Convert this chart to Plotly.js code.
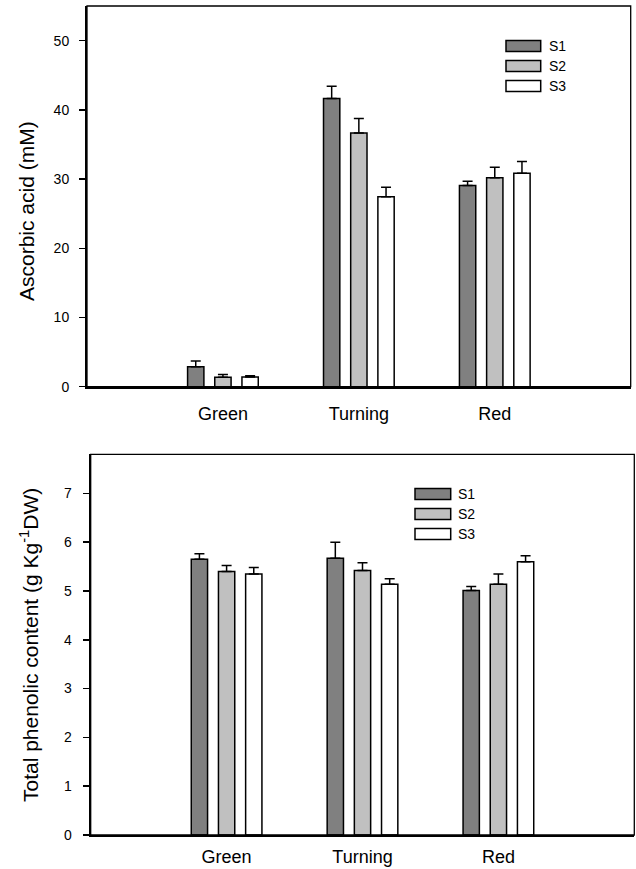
<!DOCTYPE html>
<html>
<head>
<meta charset="utf-8">
<script src="https://cdn.plot.ly/plotly-3.0.1.min.js"></script>
<style>
html,body{margin:0;padding:0;background:#fff;}
#chart{width:636px;height:869px;}
</style>
</head>
<body>
<div id="chart"></div>
<script>
// ---- Data ----
const categories = ['Green', 'Turning', 'Red'];
const seriesNames = ['S1', 'S2', 'S3'];

// Ascorbic acid (mM)
const ascS1 = [2.9, 41.65, 29.07];
const ascS2 = [1.35, 36.65, 30.2];
const ascS3 = [1.4, 27.45, 30.85];
const ascErrS1 = [0.8, 1.75, 0.6];
const ascErrS2 = [0.4, 2.1, 1.5];
const ascErrS3 = [0.2, 1.35, 1.7];

// Total phenolic content (g Kg-1 DW)
const phenS1 = [5.65, 5.67, 5.01];
const phenS2 = [5.4, 5.42, 5.14];
const phenS3 = [5.35, 5.14, 5.6];
const phenErrS1 = [0.11, 0.33, 0.08];
const phenErrS2 = [0.12, 0.16, 0.21];
const phenErrS3 = [0.13, 0.11, 0.12];

const ascTicks = [0, 10, 20, 30, 40, 50];
const phenTicks = [0, 1, 2, 3, 4, 5, 6, 7];

// ---- Styles ----
const fills = ['#808080', '#c0c0c0', '#ffffff'];
const FONT = 'Liberation Sans, Arial, Helvetica, sans-serif';
const W = 636, H = 869;

function barTrace(name, y, err, fill, xa, ya) {
  return {
    type: 'bar', name: name, x: categories, y: y,
    xaxis: xa, yaxis: ya, showlegend: false,
    marker: {color: fill, line: {color: '#000', width: 1.5}},
    error_y: {type: 'data', symmetric: false, array: err,
              arrayminus: err.map(() => 0), color: '#000', thickness: 1.5, width: 5},
    hoverinfo: 'skip'
  };
}

const data = [
  barTrace('S1', ascS1, ascErrS1, fills[0], 'x', 'y'),
  barTrace('S2', ascS2, ascErrS2, fills[1], 'x', 'y'),
  barTrace('S3', ascS3, ascErrS3, fills[2], 'x', 'y'),
  barTrace('S1', phenS1, phenErrS1, fills[0], 'x2', 'y2'),
  barTrace('S2', phenS2, phenErrS2, fills[1], 'x2', 'y2'),
  barTrace('S3', phenS3, phenErrS3, fills[2], 'x2', 'y2')
];

// pixel helpers for paper coordinates
const px = v => v / W;
const py = v => 1 - v / H;

const xCommon = {
  type: 'category', range: [-1, 3], showgrid: false, zeroline: false,
  showline: true, linecolor: '#000', linewidth: 2, ticks: '',
  tickfont: {family: FONT, size: 18, color: '#000'}, fixedrange: true
};
const yCommon = {
  showgrid: false, zeroline: false, showline: true, linecolor: '#000', linewidth: 2,
  ticks: 'outside', ticklen: 6, tickwidth: 1.5, tickcolor: '#000',
  tickfont: {family: FONT, size: 14, color: '#000'}, fixedrange: true
};

const shapes = [];
const annotations = [];

// frames
shapes.push({type: 'rect', xref: 'x domain', yref: 'y domain', x0: 0, x1: 1, y0: 0, y1: 1,
             line: {color: '#000', width: 1.3}});
shapes.push({type: 'rect', xref: 'x2 domain', yref: 'y2 domain', x0: 0, x1: 1, y0: 0, y1: 1,
             line: {color: '#000', width: 1.3}});

// legends
function addLegend(xLeft, xRight, yCenters, textX) {
  seriesNames.forEach((n, i) => {
    shapes.push({type: 'rect', xref: 'paper', yref: 'paper',
      x0: px(xLeft), x1: px(xRight), y0: py(yCenters[i] + 5.5), y1: py(yCenters[i] - 5.5),
      fillcolor: fills[i], line: {color: '#000', width: 1.5}});
    annotations.push({xref: 'paper', yref: 'paper', x: px(textX), y: py(yCenters[i]),
      xanchor: 'left', yanchor: 'middle', showarrow: false, text: n,
      font: {family: FONT, size: 14, color: '#000'}});
  });
}
addLegend(506, 540.7, [46, 66, 86], 547);
addLegend(415, 450.7, [494, 514, 534], 456);

// y titles
annotations.push({xref: 'paper', yref: 'paper', x: px(26), y: py(211), xanchor: 'center', yanchor: 'middle',
  textangle: -90, showarrow: false, text: 'Ascorbic acid (mM)', font: {family: FONT, size: 21, color: '#000'}});
annotations.push({xref: 'paper', yref: 'paper', x: px(29), y: py(645), xanchor: 'center', yanchor: 'middle',
  textangle: -90, showarrow: false, text: 'Total phenolic content (g Kg<sup>-1</sup>DW)',
  font: {family: FONT, size: 21, color: '#000'}});

const layout = {
  width: W, height: H,
  margin: {l: 0, r: 0, t: 0, b: 0, pad: 0},
  paper_bgcolor: '#fff', plot_bgcolor: '#fff',
  barmode: 'group', bargap: 0.4, bargroupgap: 0.4,
  showlegend: false,
  xaxis: Object.assign({}, xCommon, {domain: [px(87), px(630.7)], anchor: 'y', ticklabelstandoff: 10}),
  yaxis: Object.assign({}, yCommon, {domain: [py(386.7), py(6)], range: [0, 55], tickvals: ascTicks, anchor: 'x', ticklabelstandoff: 7}),
  xaxis2: Object.assign({}, xCommon, {domain: [px(90.7), px(634.3)], anchor: 'y2', ticklabelstandoff: 4}),
  yaxis2: Object.assign({}, yCommon, {domain: [py(835), py(454.3)], range: [0, 7.8], tickvals: phenTicks, anchor: 'x2', ticklabelstandoff: 8}),
  shapes: shapes,
  annotations: annotations
};

Plotly.newPlot('chart', data, layout, {displayModeBar: false, staticPlot: true});
</script>
</body>
</html>
